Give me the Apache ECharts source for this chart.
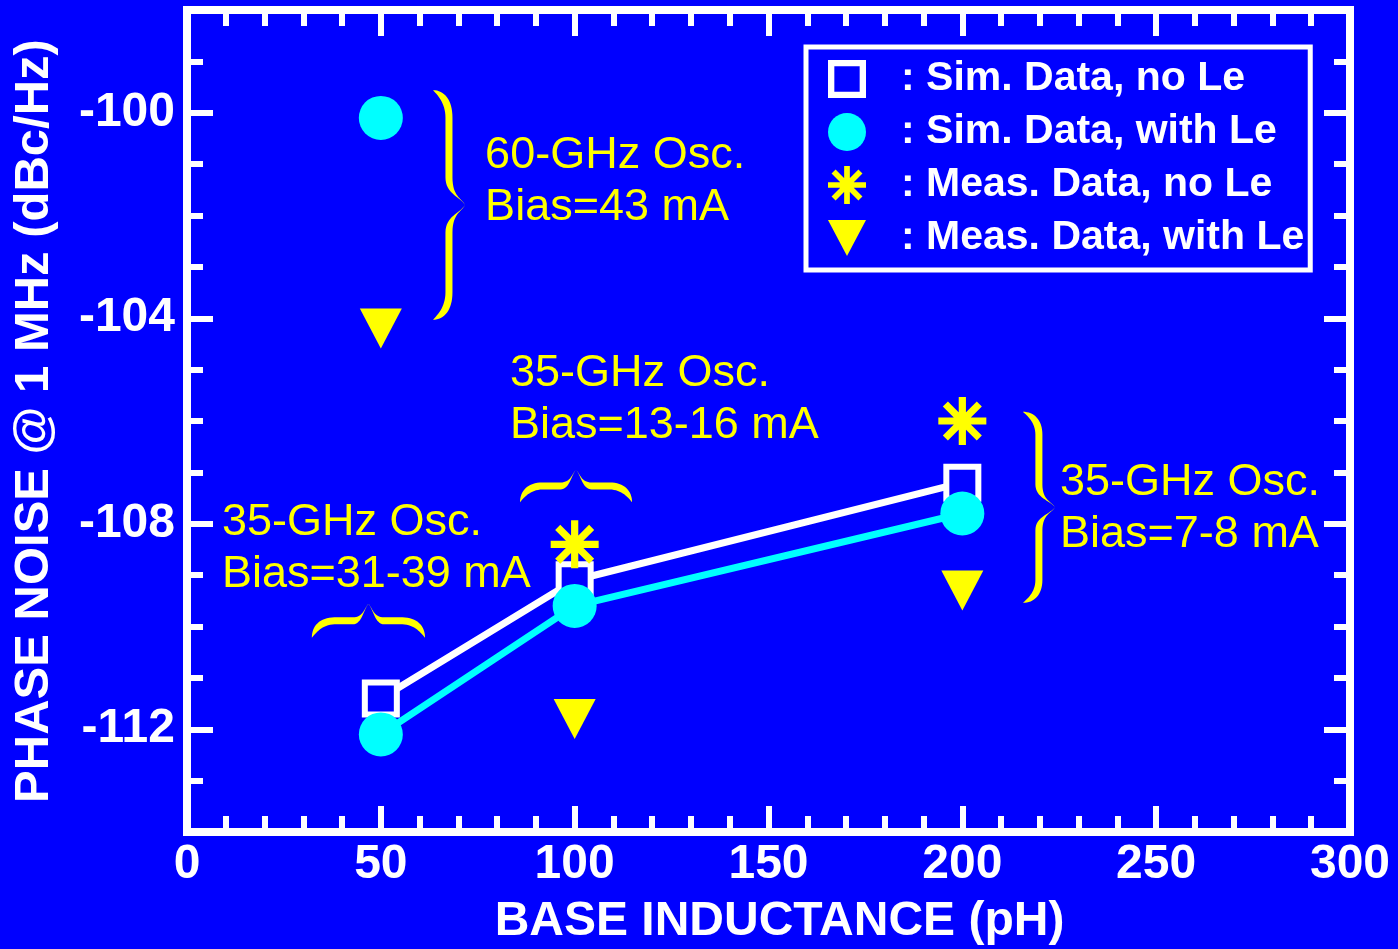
<!DOCTYPE html>
<html>
<head>
<meta charset="utf-8">
<style>
  html, body { margin: 0; padding: 0; background: #0000ff; }
  #chart { width: 1398px; height: 949px; }
</style>
<script src="https://cdn.jsdelivr.net/npm/echarts@6/dist/echarts.min.js"></script>
</head>
<body>
<div id="chart"></div>
<script>
// Phase noise at 1 MHz offset versus base inductance, simulated and measured.
const xTicks = [0, 50, 100, 150, 200, 250, 300];
const yRange = [-114, -98];
const yMajorTicks = [-112, -108, -104, -100];

const seriesNames = [
  'Sim. Data, no Le',
  'Sim. Data, with Le',
  'Meas. Data, no Le',
  'Meas. Data, with Le'
];

// [base inductance (pH), phase noise (dBc/Hz)]
const simNoLe = [[50, -111.4], [100, -109.1], [200, -107.2]];
const simWithLe = [[50, -112.1], [100, -109.6], [200, -107.8]];
const simWithLe60GHz = [[50, -100.1]];
const measNoLe = [[100, -108.4], [200, -106.0]];
const measWithLe = [[50, -104.2], [100, -111.8], [200, -109.3]];

const noteLines = [
  '60-GHz Osc.\nBias=43 mA',
  '35-GHz Osc.\nBias=13-16 mA',
  '35-GHz Osc.\nBias=31-39 mA',
  '35-GHz Osc.\nBias=7-8 mA'
];

// Annotation placement, in axis units
const notePlaces = [[76.9, -100.84], [83.3, -105.07], [9.0, -107.97], [225.2, -107.19]];
const bracePlaces = [
  { dir: 'v', ends: 63.45, tip: 71.7, from: -99.56, to: -104.03 },
  { dir: 'v', ends: 215.6, tip: 223.9, from: -105.82, to: -109.54 },
  { dir: 'h', ends: -107.58, tip: -106.95, from: 85.9, to: 114.8 },
  { dir: 'h', ends: -110.22, tip: -109.56, from: 32.2, to: 61.4 }
];

const FONT = '"Liberation Sans", Arial, Helvetica, sans-serif';
const WHITE = '#ffffff', CYAN = '#00ffff', YELLOW = '#ffff00', BLUE = '#0000ff';

// Eight-armed asterisk symbol built from four rotated bars
function asteriskSymbol(L, w) {
  let d = '';
  [0, 45, 90, 135].forEach(a => {
    const r = a * Math.PI / 180, c = Math.cos(r), s = Math.sin(r);
    const pts = [[-L, -w], [L, -w], [L, w], [-L, w]].map(([x, y]) =>
      [(L + x * c - y * s).toFixed(2), (L + x * s + y * c).toFixed(2)]);
    d += 'M' + pts.map(p => p.join(',')).join('L') + 'Z';
  });
  return 'path://' + d;
}
const ASTERISK = asteriskSymbol(24, 3.6);
const DOWN_TRIANGLE = 'path://M0,0L42,0L21,40Z';
const HOLLOW_SQUARE = 'path://M0,0H36V36H0ZM6,6V30H30V6Z';

const chart = echarts.init(document.getElementById('chart'), null, { renderer: 'canvas' });

const tickStyle = { color: WHITE, width: 6 };
const xMin = xTicks[0], xMax = xTicks[xTicks.length - 1], xStep = xTicks[1] - xTicks[0];

function xAxisDef(position, withLabels) {
  return {
    type: 'value', position, min: xMin, max: xMax, interval: xStep,
    axisLine: { show: false },
    splitLine: { show: false },
    axisTick: { show: true, inside: true, length: 26, lineStyle: tickStyle },
    minorTick: { show: true, splitNumber: 5, length: 16, lineStyle: tickStyle },
    axisLabel: withLabels
      ? { color: WHITE, fontSize: 48, fontWeight: 'bold', fontFamily: FONT, margin: 9 }
      : { show: false },
    name: withLabels ? 'BASE INDUCTANCE (pH)' : '',
    nameLocation: 'middle',
    nameGap: 66,
    nameTextStyle: { color: WHITE, fontSize: 48, fontWeight: 'bold', fontFamily: FONT, padding: [0, 0, 0, 22] }
  };
}

function yAxisDef(position, major, withLabels) {
  const def = {
    type: 'value', position, min: yRange[0], max: yRange[1], interval: 1,
    axisLine: { show: false },
    splitLine: { show: false },
    axisTick: major
      ? { show: true, inside: true, length: 26, customValues: yMajorTicks, lineStyle: tickStyle }
      : { show: true, inside: true, length: 16, lineStyle: tickStyle },
    axisLabel: withLabels
      ? { customValues: yMajorTicks, color: WHITE, fontSize: 48, fontWeight: 'bold', fontFamily: FONT, margin: 12 }
      : { show: false }
  };
  if (withLabels) {
    Object.assign(def, {
      name: 'PHASE NOISE @ 1 MHz (dBc/Hz)',
      nameLocation: 'middle',
      nameGap: 128,
      nameRotate: 90,
      nameTextStyle: { color: WHITE, fontSize: 49, fontWeight: 'bold', fontFamily: FONT }
    });
  }
  return def;
}

const solid = c => ({ color: c, opacity: 1 });

const option = {
  backgroundColor: BLUE,
  animation: false,
  textStyle: { fontFamily: FONT },
  grid: {
    left: 187, right: 48, top: 10, bottom: 117,
    outerBoundsMode: 'none',
    containLabel: false,
    show: true, borderColor: WHITE, borderWidth: 8, backgroundColor: 'transparent'
  },
  xAxis: [xAxisDef('bottom', true), xAxisDef('top', false)],
  yAxis: [
    yAxisDef('left', true, true),
    yAxisDef('left', false, false),
    yAxisDef('right', true, false),
    yAxisDef('right', false, false)
  ],
  legend: {
    orient: 'vertical',
    left: 806, top: 47,
    padding: [11, 6, 11, 22],
    itemGap: 11,
    itemWidth: 38, itemHeight: 42,
    selectedMode: false,
    backgroundColor: BLUE,
    borderColor: WHITE, borderWidth: 5,
    formatter: name => ': ' + name,
    textStyle: { color: WHITE, fontSize: 41, fontWeight: 'bold', fontFamily: FONT, lineHeight: 42, padding: [0, 0, 0, 30] },
    data: [
      { name: seriesNames[0], icon: HOLLOW_SQUARE, itemStyle: { color: WHITE, borderWidth: 0, opacity: 1 } },
      { name: seriesNames[1], icon: 'circle', itemStyle: solid(CYAN) },
      { name: seriesNames[2], icon: ASTERISK, itemStyle: solid(YELLOW) },
      { name: seriesNames[3], icon: DOWN_TRIANGLE, itemStyle: solid(YELLOW) }
    ]
  },
  series: [
    {
      name: seriesNames[0], type: 'line', data: simNoLe,
      symbol: 'rect', symbolSize: 32,
      itemStyle: { color: BLUE, borderColor: WHITE, borderWidth: 6, opacity: 1 },
      lineStyle: { color: WHITE, width: 7 },
      emphasis: { disabled: true }, z: 2
    },
    {
      name: seriesNames[1], type: 'line', data: simWithLe,
      symbol: 'circle', symbolSize: 44,
      itemStyle: solid(CYAN),
      lineStyle: { color: CYAN, width: 7 },
      emphasis: { disabled: true }, z: 3
    },
    {
      name: seriesNames[1], type: 'scatter', data: simWithLe60GHz,
      symbol: 'circle', symbolSize: 44,
      itemStyle: solid(CYAN),
      emphasis: { disabled: true }, z: 3
    },
    {
      name: seriesNames[2], type: 'scatter', data: measNoLe,
      symbol: ASTERISK, symbolSize: 48,
      itemStyle: solid(YELLOW),
      emphasis: { disabled: true }, z: 4
    },
    {
      name: seriesNames[3], type: 'scatter', data: measWithLe,
      symbol: DOWN_TRIANGLE, symbolSize: [42, 40],
      itemStyle: solid(YELLOW),
      emphasis: { disabled: true }, z: 4
    }
  ]
};

chart.setOption(option);

// Curly-brace outline as a polygon. P(u, v): u runs along the brace,
// v runs from the free ends (0) to the tip (1).
function bracePoints(P, tv, e, c) {
  const vo = 0.5 + tv / 2, vi = 0.5 - tv / 2, k = 0.5 - c;
  const segs = [
    ['C', [0, 0.35], [e * 0.35, vo], [e, vo]],
    ['L', [c, vo]],
    ['C', [c + k * 0.7, vo], [0.5 - k * 0.25, 0.9], [0.5, 1]],
    ['C', [0.5 + k * 0.25, 0.9], [1 - c - k * 0.7, vo], [1 - c, vo]],
    ['L', [1 - e, vo]],
    ['C', [1 - e * 0.35, vo], [1, 0.35], [1, 0]],
    ['C', [1 - e * 0.15, 0.12], [1 - e * 0.45, vi], [1 - e, vi]],
    ['L', [1 - c, vi]],
    ['C', [1 - c - k * 0.6, vi], [0.5 + k * 0.3, 0.85], [0.5, 1]],
    ['C', [0.5 - k * 0.3, 0.85], [c + k * 0.6, vi], [c, vi]],
    ['L', [e, vi]],
    ['C', [e * 0.45, vi], [e * 0.15, 0.12], [0, 0]]
  ];
  const out = [P(0, 0)];
  let cur = [0, 0];
  segs.forEach(s => {
    if (s[0] === 'L') {
      cur = s[1];
      out.push(P(cur[0], cur[1]));
    } else {
      const p0 = cur, p1 = s[1], p2 = s[2], p3 = s[3];
      const n = 16;
      for (let i = 1; i <= n; i++) {
        const t = i / n, m = 1 - t;
        const a = m * m * m, b = 3 * m * m * t, cc = 3 * m * t * t, d = t * t * t;
        out.push(P(
          a * p0[0] + b * p1[0] + cc * p2[0] + d * p3[0],
          a * p0[1] + b * p1[1] + cc * p2[1] + d * p3[1]
        ));
      }
      cur = p3;
    }
  });
  return out;
}

const toPx = p => chart.convertToPixel({ xAxisIndex: 0, yAxisIndex: 0 }, p);
const graphics = [];

bracePlaces.forEach(b => {
  let P, depth, e, c;
  if (b.dir === 'v') {
    const a = toPx([b.ends, b.from]), z = toPx([b.tip, b.to]);
    depth = Math.abs(z[0] - a[0]);
    P = (u, v) => [a[0] + v * (z[0] - a[0]), a[1] + u * (z[1] - a[1])];
    e = 0.12; c = 0.38;
  } else {
    const a = toPx([b.from, b.ends]), z = toPx([b.to, b.tip]);
    depth = Math.abs(z[1] - a[1]);
    P = (u, v) => [a[0] + u * (z[0] - a[0]), a[1] + v * (z[1] - a[1])];
    e = 0.2; c = 0.36;
  }
  graphics.push({
    type: 'polygon', z: 20, silent: true,
    shape: { points: bracePoints(P, 7 / depth, e, c) },
    style: { fill: YELLOW }
  });
});

noteLines.forEach((txt, i) => {
  const p = toPx(notePlaces[i]);
  graphics.push({
    type: 'text', z: 20, silent: true,
    x: p[0], y: p[1] - 26,
    style: {
      text: txt, fill: YELLOW, fontSize: 45, fontFamily: FONT,
      lineHeight: 52, align: 'left', verticalAlign: 'top'
    }
  });
});

chart.setOption({ graphic: graphics });
</script>
</body>
</html>
